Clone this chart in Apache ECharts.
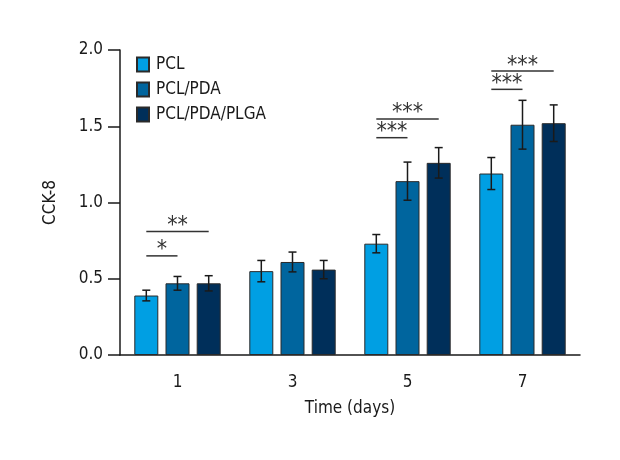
<!DOCTYPE html>
<html>
<head>
<meta charset="utf-8">
<script src="https://cdn.jsdelivr.net/npm/echarts@6/dist/echarts.min.js"></script>
<style>
  html, body { margin: 0; padding: 0; background: #fff; }
  #chart { width: 620px; height: 460px; }
</style>
</head>
<body>
<div id="chart"></div>
<script>
(function () {
    'use strict';

    var FONT = "'Liberation Sans Narrow', 'DejaVu Sans Condensed', sans-serif";

    var days = ['1', '3', '5', '7'];
    var groups = ['PCL', 'PCL/PDA', 'PCL/PDA/PLGA'];
    var colors = ['#009fe3', '#00659e', '#002f5a'];

    // mean values per group, one per day
    var pclMean = [0.39, 0.55, 0.73, 1.19];
    var pdaMean = [0.47, 0.61, 1.14, 1.51];
    var plgaMean = [0.47, 0.56, 1.26, 1.52];

    // error bar half-widths
    var pclErr = [0.035, 0.07, 0.06, 0.105];
    var pdaErr = [0.045, 0.065, 0.125, 0.16];
    var plgaErr = [0.05, 0.06, 0.10, 0.12];

    // significance brackets: [day index, from bar, to bar, y level, label]
    var brackets = [
        [0, 0, 1, 0.65, '*'],
        [0, 0, 2, 0.81, '**'],
        [2, 0, 1, 1.425, '***'],
        [2, 0, 2, 1.548, '***'],
        [3, 0, 1, 1.742, '***'],
        [3, 0, 2, 1.862, '***']
    ];

    var BAR_W = 24;
    var GAP = 0.3;
    var STEP = BAR_W * (1 + GAP);

    var means = [pclMean, pdaMean, plgaMean];
    var errs = [pclErr, pdaErr, plgaErr];

    /* ---------------------------------------------------------------- */
    /*  Series builders                                                  */
    /* ---------------------------------------------------------------- */

    function barSeries(i) {
        return {
            name: groups[i],
            type: 'bar',
            data: means[i],
            barWidth: BAR_W,
            barGap: (GAP * 100) + '%',
            itemStyle: { color: colors[i], borderColor: '#2a2a2a', borderWidth: 1 },
            z: 2
        };
    }

    function errorSeries(i) {
        var data = means[i].map(function (m, k) {
            return [k, m - errs[i][k], m + errs[i][k]];
        });
        return {
            type: 'custom',
            data: data,
            z: 5,
            silent: true,
            renderItem: function (params, api) {
                var lo = api.coord([api.value(0), api.value(1)]);
                var hi = api.coord([api.value(0), api.value(2)]);
                var x = lo[0] + (i - 1) * STEP;
                var cap = 4;
                var style = { stroke: '#1a1a1a', lineWidth: 1.5 };
                return {
                    type: 'group',
                    children: [
                        { type: 'line', shape: { x1: x, y1: lo[1], x2: x, y2: hi[1] }, style: style },
                        { type: 'line', shape: { x1: x - cap, y1: hi[1], x2: x + cap, y2: hi[1] }, style: style },
                        { type: 'line', shape: { x1: x - cap, y1: lo[1], x2: x + cap, y2: lo[1] }, style: style }
                    ]
                };
            }
        };
    }

    function bracketSeries() {
        return {
            type: 'custom',
            data: brackets,
            z: 6,
            silent: true,
            renderItem: function (params, api) {
                var b = brackets[params.dataIndex];
                var p = api.coord([b[0], b[3]]);
                var x1 = p[0] + (b[1] - 1) * STEP;
                var x2 = p[0] + (b[2] - 1) * STEP;
                return {
                    type: 'group',
                    children: [
                        {
                            type: 'line',
                            shape: { x1: x1, y1: p[1], x2: x2, y2: p[1] },
                            style: { stroke: '#333', lineWidth: 1.5 }
                        },
                        {
                            type: 'text',
                            x: (x1 + x2) / 2,
                            y: p[1] + 6,
                            style: {
                                text: b[4],
                                fill: '#333',
                                font: '23px ' + FONT,
                                align: 'center',
                                verticalAlign: 'bottom'
                            }
                        }
                    ]
                };
            }
        };
    }

    /* ---------------------------------------------------------------- */
    /*  Chart                                                            */
    /* ---------------------------------------------------------------- */

    var chart = echarts.init(document.getElementById('chart'));

    var axisText = { color: '#1a1a1a', fontSize: 17, fontFamily: FONT };

    chart.setOption({
        animation: false,
        textStyle: { fontFamily: FONT },
        grid: { left: 120, right: 40, top: 50, bottom: 105 },
        legend: {
            orient: 'vertical',
            left: 131,
            top: 51,
            itemWidth: 12,
            itemHeight: 14,
            itemGap: 8,
            icon: 'rect',
            data: groups,
            textStyle: { color: '#1a1a1a', fontSize: 17, fontFamily: FONT, padding: [0, 0, 0, 2] }
        },
        xAxis: {
            type: 'category',
            data: days,
            name: 'Time (days)',
            nameLocation: 'middle',
            nameGap: 45,
            nameTextStyle: axisText,
            axisLine: { lineStyle: { color: '#1a1a1a', width: 1.5 } },
            axisTick: { alignWithLabel: true, length: 7, lineStyle: { color: '#1a1a1a', width: 1.5 } },
            axisLabel: Object.assign({ margin: 19 }, axisText),
            splitLine: { show: false }
        },
        yAxis: {
            type: 'value',
            min: 0,
            max: 2,
            interval: 0.5,
            name: 'CCK-8',
            nameLocation: 'middle',
            nameGap: 61,
            nameTextStyle: axisText,
            axisLine: { show: true, lineStyle: { color: '#1a1a1a', width: 1.5 } },
            axisTick: { show: true, length: 12, lineStyle: { color: '#1a1a1a', width: 1.5 } },
            axisLabel: Object.assign({
                margin: 17,
                formatter: function (v) { return v.toFixed(1); }
            }, axisText),
            splitLine: { show: false }
        },
        series: [
            barSeries(0), barSeries(1), barSeries(2),
            errorSeries(0), errorSeries(1), errorSeries(2),
            bracketSeries()
        ]
    });
})();
</script>
</body>
</html>
